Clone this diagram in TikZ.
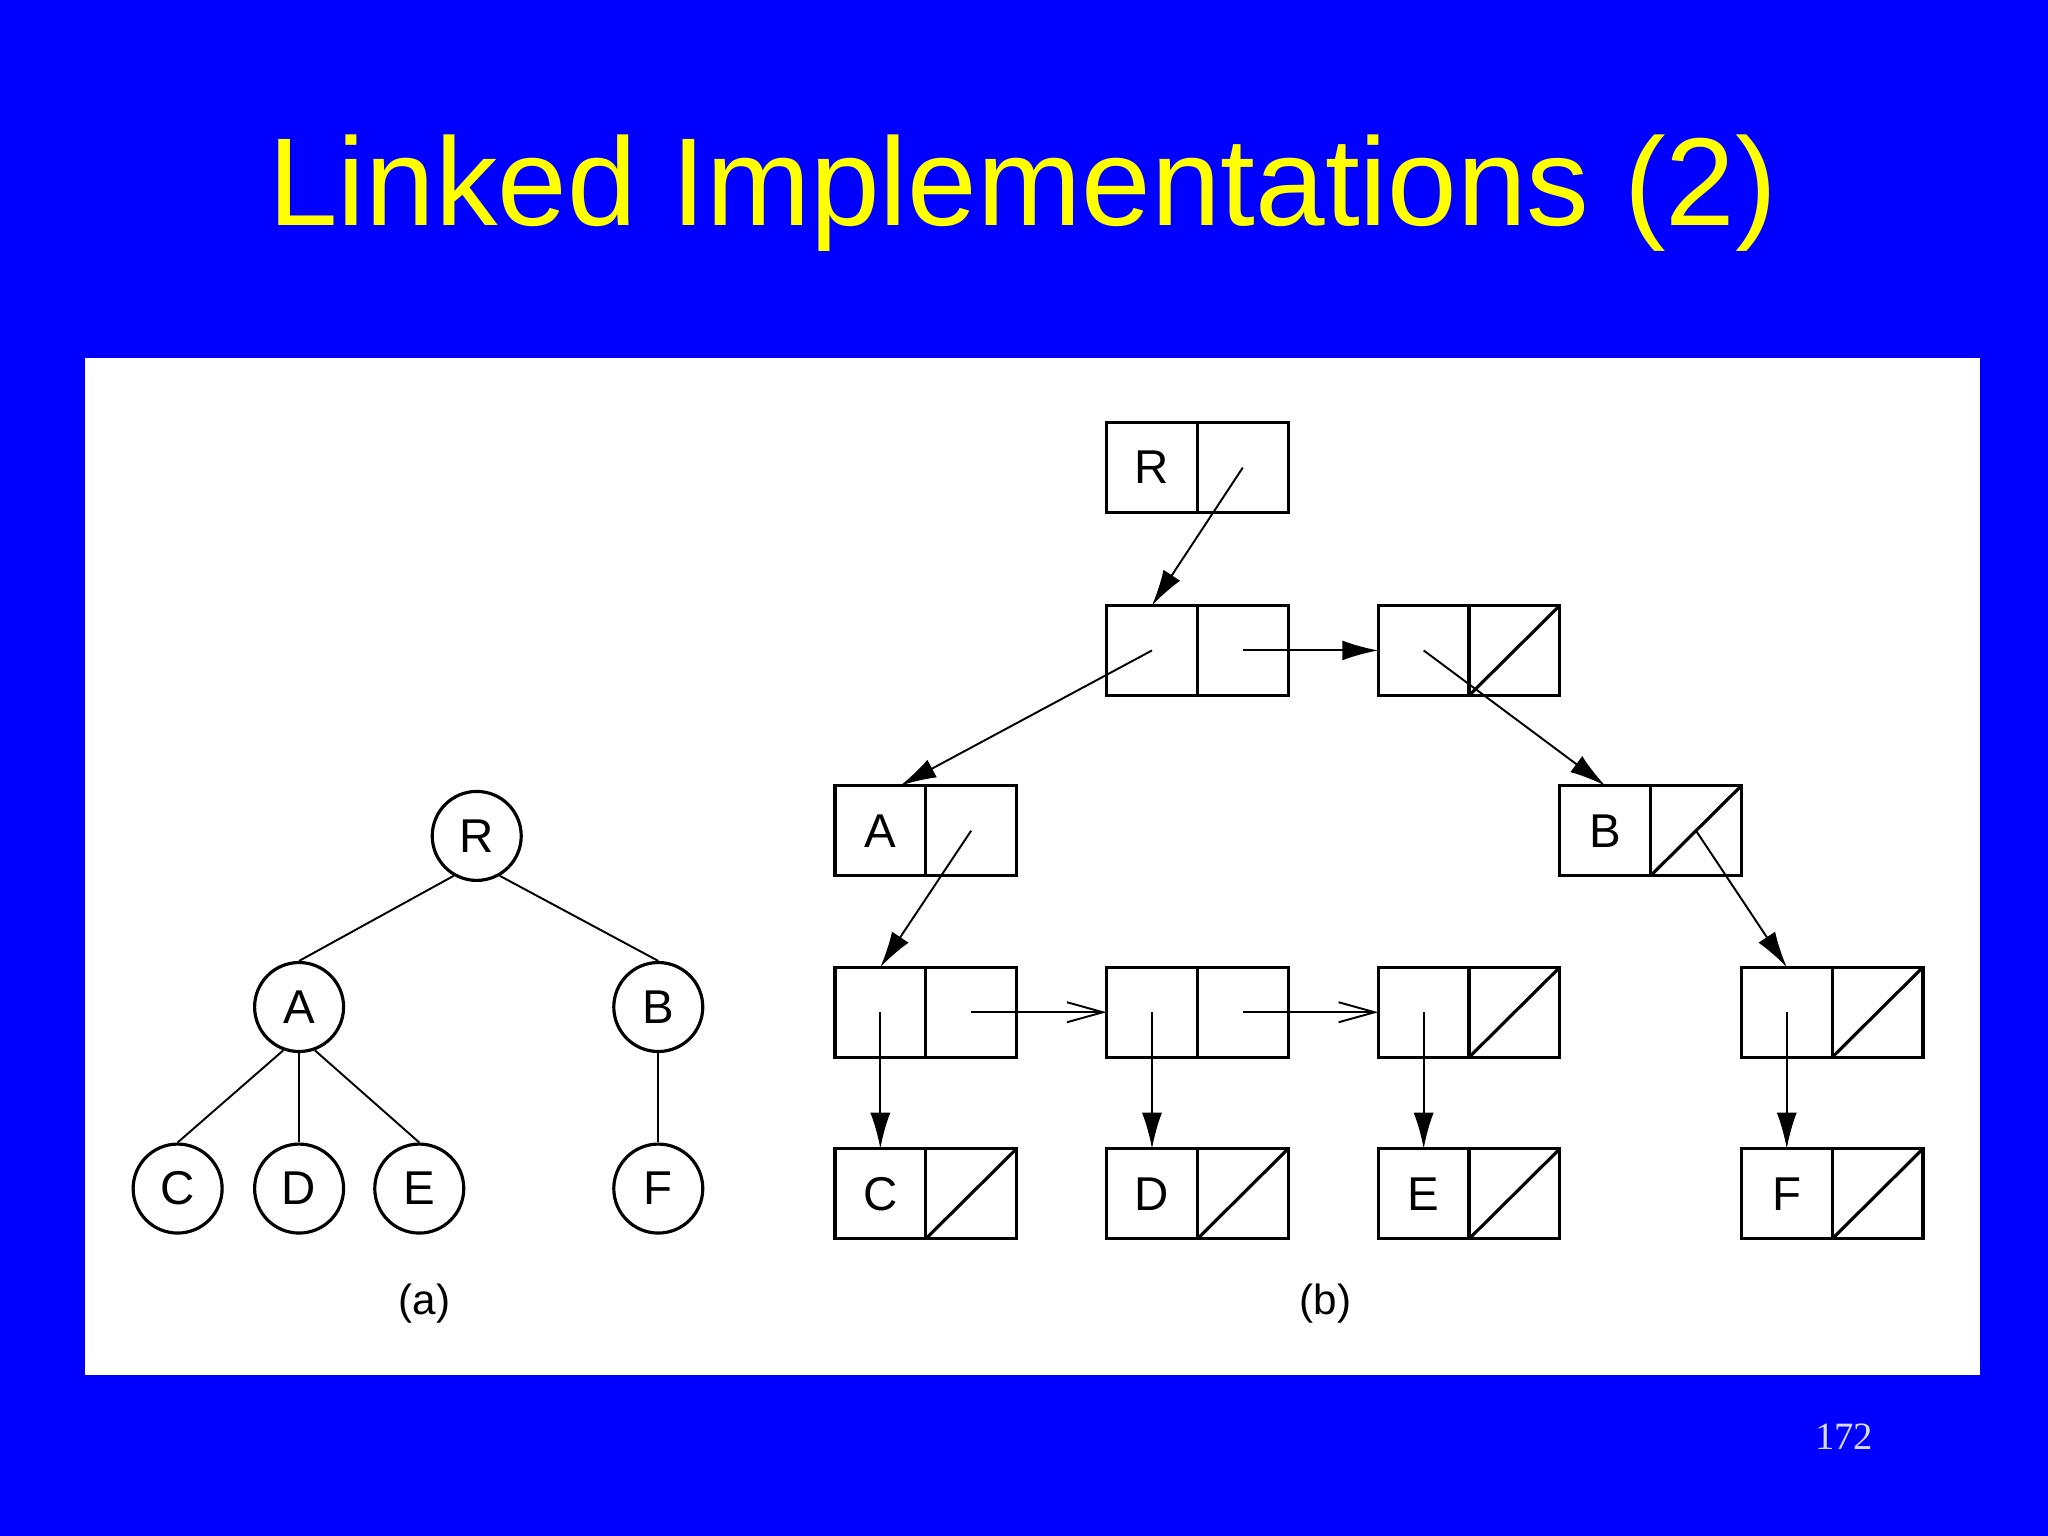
\documentclass[tikz,border=0pt]{standalone}
\usepackage{fontspec}
\setmainfont{Liberation Sans}
\newfontfamily\seriffont{Liberation Serif}
\usetikzlibrary{positioning,arrows.meta}
\definecolor{slideblue}{RGB}{0,0,255}
\definecolor{slideyellow}{RGB}{255,255,0}
\tikzstyle{cell} = [rectangle, draw, line width=0.9pt, minimum width=0.908cm,
    minimum height=0.901cm, inner sep=0pt, outer sep=0pt, font=\fontsize{13.5}{16}\selectfont]
\tikzstyle{knot} = [circle, draw, line width=0.9pt, minimum size=0.89cm,
    inner sep=0pt, font=\fontsize{13.5}{16}\selectfont]
\tikzstyle{line} = [draw, line width=0.55pt, -{Latex[length=0.36cm,width=0.2cm]}]
\tikzstyle{open} = [draw, line width=0.55pt, -{Straight Barb[length=0.36cm,width=0.2cm]}]

\begin{document}
\begin{tikzpicture}[x=0.013061cm, y=-0.013061cm]
  % Background
  \fill [slideblue] (0,0) rectangle (1568,1176);
  \fill [white] (65,274) rectangle (1516,1053);
  \node [text=slideyellow, font=\fontsize{35.6}{42}\selectfont] (title) at (783,148) {Linked Implementations (2)};
  \node [text=white!85!slideblue, font=\fontsize{11}{13}\seriffont] (page) at (1412,1100) {172};

  % Tree (a)
  \node [knot] (R) at (365,640) {R};
  \node [knot] (A) at (229,771) {A};
  \node [knot] (B) at (504,771) {B};
  \node [knot] (C) at (136,910) {C};
  \node [knot] (D) at (229,910) {D};
  \node [knot] (E) at (321,910) {E};
  \node [knot] (F) at (504,910) {F};
  \draw [line width=0.55pt] (R.240) -- (A.north);
  \draw [line width=0.55pt] (R.300) -- (B.north);
  \draw [line width=0.55pt] (A.250) -- (C.north);
  \draw [line width=0.55pt] (A.south) -- (D.north);
  \draw [line width=0.55pt] (A.290) -- (E.north);
  \draw [line width=0.55pt] (B) -- (F);
  \node [font=\fontsize{12}{14}\selectfont] (capa) at (325,998) {(a)};

  % Boxes (b)
  \foreach \n/\x/\y/\t in {r/882/358/R, pa/882/498/, pb/1090/498/, a/674/636/A, b/1229/636/B,
      qa/674/775/, qb/882/775/, qc/1090/775/, qd/1368/775/,
      c/674/914/C, d/882/914/D, e/1090/914/E, f/1368/914/F} {
    \node [cell] (\n1) at (\x,\y) {\t};
    \node [cell, right=0pt of \n1] (\n2) {};
  }
  % Empty links
  \foreach \n in {pb, b, qc, qd, c, d, e, f}
    \draw [line width=0.9pt] (\n2.south west) -- (\n2.north east);
  \node [font=\fontsize{12}{14}\selectfont] (capb) at (1015,998) {(b)};

  % Draw edges
  \path [line] (r2.center) -- (pa1.north);
  \path [line] (pa1.center) -- ([xshift=0.2cm]a1.north);
  \path [line] (pa2.center) -- (pb1.west);
  \path [line] (pb1.center) -- (b1.north);
  \path [line] (a2.center) -- (qa1.north);
  \path [line] (b2.center) -- (qd1.north);
  \path [open] (qa2.center) -- (qb1.west);
  \path [open] (qb2.center) -- (qc1.west);
  \path [line] (qa1.center) -- (c1.north);
  \path [line] (qb1.center) -- (d1.north);
  \path [line] (qc1.center) -- (e1.north);
  \path [line] (qd1.center) -- (f1.north);
\end{tikzpicture}
\end{document}
